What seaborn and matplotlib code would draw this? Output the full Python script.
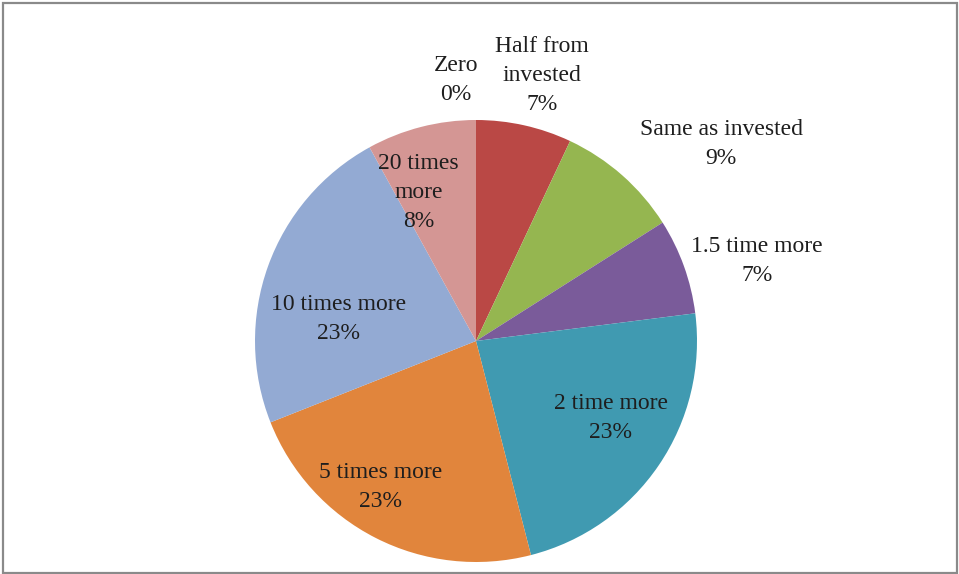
import matplotlib
matplotlib.use("Agg")
import matplotlib.pyplot as plt
from matplotlib.patches import Rectangle
import seaborn as sns

# Expected return on investment, share of respondents
categories = ["Zero", "Half from\ninvested", "Same as invested", "1.5 time more",
              "2 time more", "5 times more", "10 times more", "20 times\nmore"]
shares = [0, 7, 9, 7, 23, 23, 23, 8]

slice_colors = ["#4F81BD", "#BA4845", "#95B650", "#7A5B9A", "#409AB1",
                "#E1853C", "#93AAD3", "#D49694"]

# label anchor points in units of the pie radius
label_xy = [(-0.09, 1.18), (0.30, 1.20), (1.11, 0.89), (1.27, 0.36),
            (0.61, -0.35), (-0.43, -0.66), (-0.62, 0.10), (-0.26, 0.67)]

sns.set_theme(style="white")
plt.rcParams["font.family"] = ["Liberation Serif", "DejaVu Serif"]

W, H = 959, 574
fig = plt.figure(figsize=(W / 100, H / 100), dpi=100)
fig.patch.set_facecolor("white")

cx, cy, r = 476, 341, 221
ax = fig.add_axes([(cx - r) / W, (H - cy - r) / H, 2 * r / W, 2 * r / H])

ax.pie(shares, colors=slice_colors, startangle=90, counterclock=False,
       radius=1.0, wedgeprops=dict(linewidth=0))
ax.set_xlim(-1, 1)
ax.set_ylim(-1, 1)
ax.set_aspect("auto")
ax.axis("off")

for name, val, (lx, ly) in zip(categories, shares, label_xy):
    ax.text(lx, ly, f"{name}\n{val}%", ha="center", va="center",
            multialignment="center", fontsize=17, color="#1e1e1e",
            linespacing=1.5, clip_on=False)

fig.patches.append(Rectangle((2.5 / W, 1.5 / H), (W - 5) / W, (H - 4) / H,
                             transform=fig.transFigure, fill=False,
                             edgecolor="#8a8a8a", linewidth=1.6))

fig.savefig("out.png", dpi=100, facecolor="white")
